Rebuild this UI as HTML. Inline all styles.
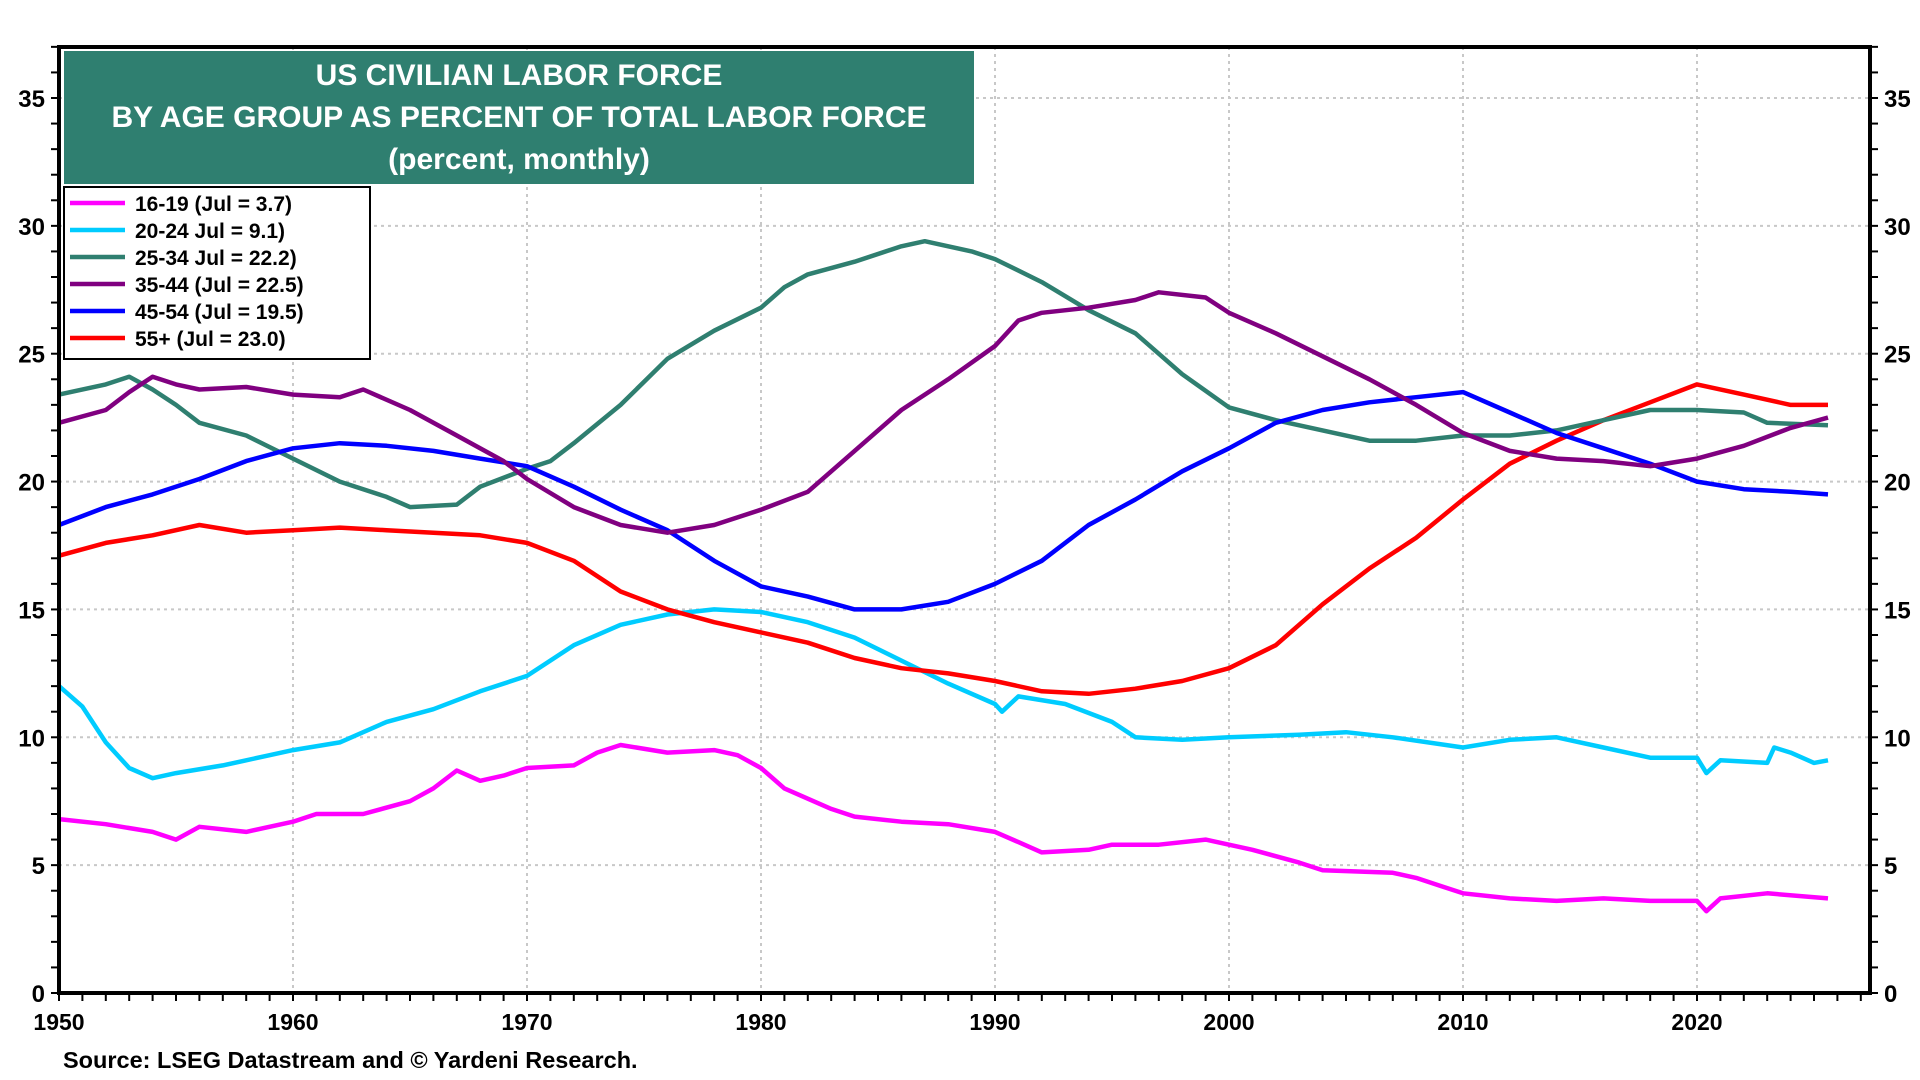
<!DOCTYPE html>
<html><head><meta charset="utf-8"><style>
html,body{margin:0;padding:0;background:#fff;}
svg{display:block;font-family:"Liberation Sans",Arial,sans-serif;font-weight:bold;}
</style></head><body>
<svg id="chart" width="1920" height="1080" viewBox="0 0 1920 1080" xmlns="http://www.w3.org/2000/svg">
<g id="grid"></g>
<g id="series"></g>
<g id="axes"></g>
<rect x="64" y="51" width="910" height="133" fill="#2f7f70"/>
<text x="519" y="85" fill="#fff" font-size="30" text-anchor="middle">US CIVILIAN LABOR FORCE</text>
<text x="519" y="127" fill="#fff" font-size="30" text-anchor="middle">BY AGE GROUP AS PERCENT OF TOTAL LABOR FORCE</text>
<text x="519" y="169" fill="#fff" font-size="30" text-anchor="middle">(percent, monthly)</text>
<g id="legend"></g>
<text x="63" y="1068" font-size="23.5" fill="#000">Source: LSEG Datastream and © Yardeni Research.</text>
</svg>
<script>
const seriesNames = ["16-19 (Jul = 3.7)","20-24 Jul = 9.1)","25-34 Jul = 22.2)","35-44 (Jul = 22.5)","45-54 (Jul = 19.5)","55+ (Jul = 23.0)"];
const seriesColors = ["#ff00ff","#00ccff","#2f7f70","#800080","#0000ff","#ff0000"];
const s1619Years=[1950,1952,1954,1955,1956,1958,1960,1961,1963,1965,1966,1967,1968,1969,1970,1972,1973,1974,1976,1978,1979,1980,1981,1982,1983,1984,1986,1988,1990,1991,1992,1994,1995,1997,1999,2001,2003,2004,2007,2008,2009,2010,2012,2014,2016,2018,2020,2020.4,2021,2023,2025.6];
const s1619Vals=[6.8,6.6,6.3,6.0,6.5,6.3,6.7,7.0,7.0,7.5,8.0,8.7,8.3,8.5,8.8,8.9,9.4,9.7,9.4,9.5,9.3,8.8,8.0,7.6,7.2,6.9,6.7,6.6,6.3,5.9,5.5,5.6,5.8,5.8,6.0,5.6,5.1,4.8,4.7,4.5,4.2,3.9,3.7,3.6,3.7,3.6,3.6,3.2,3.7,3.9,3.7];
const s2024Years=[1950,1951,1952,1953,1954,1955,1957,1959,1960,1962,1964,1966,1968,1970,1972,1974,1976,1978,1980,1982,1984,1986,1988,1990,1990.3,1991,1993,1995,1996,1998,2000,2003,2005,2007,2010,2012,2014,2016,2018,2020,2020.4,2021,2023,2023.3,2024,2025,2025.6];
const s2024Vals=[12.0,11.2,9.8,8.8,8.4,8.6,8.9,9.3,9.5,9.8,10.6,11.1,11.8,12.4,13.6,14.4,14.8,15.0,14.9,14.5,13.9,13.0,12.1,11.3,11.0,11.6,11.3,10.6,10.0,9.9,10.0,10.1,10.2,10.0,9.6,9.9,10.0,9.6,9.2,9.2,8.6,9.1,9.0,9.6,9.4,9.0,9.1];
const s2534Years=[1950,1952,1953,1954,1955,1956,1958,1960,1962,1964,1965,1967,1968,1970,1971,1972,1974,1976,1978,1980,1981,1982,1984,1986,1987,1989,1990,1992,1994,1996,1998,2000,2002,2004,2006,2008,2010,2012,2014,2016,2018,2020,2022,2023,2025.6];
const s2534Vals=[23.4,23.8,24.1,23.6,23.0,22.3,21.8,20.9,20.0,19.4,19.0,19.1,19.8,20.5,20.8,21.5,23.0,24.8,25.9,26.8,27.6,28.1,28.6,29.2,29.4,29.0,28.7,27.8,26.7,25.8,24.2,22.9,22.4,22.0,21.6,21.6,21.8,21.8,22.0,22.4,22.8,22.8,22.7,22.3,22.2];
const s3544Years=[1950,1952,1953,1954,1955,1956,1958,1960,1962,1963,1965,1967,1969,1970,1972,1974,1976,1978,1980,1982,1984,1986,1988,1990,1991,1992,1994,1996,1997,1999,2000,2002,2004,2006,2008,2010,2012,2014,2016,2018,2020,2022,2024,2025.6];
const s3544Vals=[22.3,22.8,23.5,24.1,23.8,23.6,23.7,23.4,23.3,23.6,22.8,21.8,20.8,20.1,19.0,18.3,18.0,18.3,18.9,19.6,21.2,22.8,24.0,25.3,26.3,26.6,26.8,27.1,27.4,27.2,26.6,25.8,24.9,24.0,23.0,21.9,21.2,20.9,20.8,20.6,20.9,21.4,22.1,22.5];
const s4554Years=[1950,1952,1954,1956,1958,1960,1962,1964,1966,1968,1970,1972,1974,1976,1978,1980,1982,1984,1986,1988,1990,1992,1994,1996,1998,2000,2002,2004,2006,2008,2010,2012,2014,2016,2018,2020,2022,2024,2025.6];
const s4554Vals=[18.3,19.0,19.5,20.1,20.8,21.3,21.5,21.4,21.2,20.9,20.6,19.8,18.9,18.1,16.9,15.9,15.5,15.0,15.0,15.3,16.0,16.9,18.3,19.3,20.4,21.3,22.3,22.8,23.1,23.3,23.5,22.7,21.9,21.3,20.7,20.0,19.7,19.6,19.5];
const s55Years=[1950,1952,1954,1956,1958,1960,1962,1964,1966,1968,1970,1972,1974,1976,1978,1980,1982,1984,1986,1988,1990,1992,1994,1996,1998,2000,2002,2004,2006,2008,2010,2012,2014,2016,2018,2020,2022,2024,2025.6];
const s55Vals=[17.1,17.6,17.9,18.3,18.0,18.1,18.2,18.1,18.0,17.9,17.6,16.9,15.7,15.0,14.5,14.1,13.7,13.1,12.7,12.5,12.2,11.8,11.7,11.9,12.2,12.7,13.6,15.2,16.6,17.8,19.3,20.7,21.6,22.4,23.1,23.8,23.4,23.0,23.0];
const yTicks=[0,5,10,15,20,25,30,35];
const xTicks=[1950,1960,1970,1980,1990,2000,2010,2020];

const NS="http://www.w3.org/2000/svg";
const L=59,R=1870,T=47,B=993;
const X=y=>L+(y-1950)*(1697-59)/70;
const Y=v=>B-v*(B-98)/35;
function mk(tag,attrs,parent){const e=document.createElementNS(NS,tag);for(const k in attrs)e.setAttribute(k,attrs[k]);parent.appendChild(e);return e;}
const grid=document.getElementById('grid'),axes=document.getElementById('axes'),ser=document.getElementById('series'),leg=document.getElementById('legend');
yTicks.forEach(v=>{
  if(v>0){const g=mk('line',{x1:L,x2:R,y1:Y(v),y2:Y(v),stroke:'#c8c8c8','stroke-width':2,'stroke-dasharray':'3 4'},grid);
  
  }
  const t1=mk('text',{x:L-14,y:Y(v)+9,'text-anchor':'end','font-size':24},axes);t1.textContent=v;
  
  
  const t2=mk('text',{x:R+14,y:Y(v)+9,'text-anchor':'start','font-size':24},axes);t2.textContent=v;
  
  
});
for(let v=0;v<=37;v++){mk('line',{x1:L-8,x2:L,y1:Y(v),y2:Y(v),stroke:'#000','stroke-width':2},axes);mk('line',{x1:R,x2:R+8,y1:Y(v),y2:Y(v),stroke:'#000','stroke-width':2},axes);}
xTicks.forEach(y=>{
  if(y>1950){const g=mk('line',{x1:X(y),x2:X(y),y1:T,y2:B,stroke:'#c8c8c8','stroke-width':2,'stroke-dasharray':'3 4'},grid);
  
  }
  const t=mk('text',{x:X(y),y:B+37,'text-anchor':'middle','font-size':23},axes);t.textContent=y;
  
  
});
for(let y=1950;y<=2027;y++){mk('line',{x1:X(y),x2:X(y),y1:B,y2:B+8,stroke:'#000','stroke-width':2},axes);}
mk('rect',{x:L,y:T,width:R-L,height:B-T,fill:'none',stroke:'#000','stroke-width':4},axes);
const data=[[s1619Years,s1619Vals],[s2024Years,s2024Vals],[s2534Years,s2534Vals],[s3544Years,s3544Vals],[s4554Years,s4554Vals],[s55Years,s55Vals]];
const order=[1,0,5,2,4,3];
order.forEach(i=>{
  const [ys,vs]=data[i];
  const d=ys.map((y,j)=>(j?'L':'M')+X(y).toFixed(1)+' '+Y(vs[j]).toFixed(1)).join(' ');
  const p=mk('path',{d:d,fill:'none',stroke:seriesColors[i],'stroke-width':4.5,'stroke-linejoin':'round'},ser);
  
  
});
mk('rect',{x:64,y:187,width:306,height:172,fill:'#fff',stroke:'#000','stroke-width':2},leg);
seriesNames.forEach((n,i)=>{
  const yy=203+i*27;
  const l=mk('line',{x1:70,x2:125,y1:yy,y2:yy,stroke:seriesColors[i],'stroke-width':4.5},leg);
  
  
  const t=mk('text',{x:135,y:yy+8,'font-size':21},leg);t.textContent=n;
  
  
});
</script>
</body></html>
